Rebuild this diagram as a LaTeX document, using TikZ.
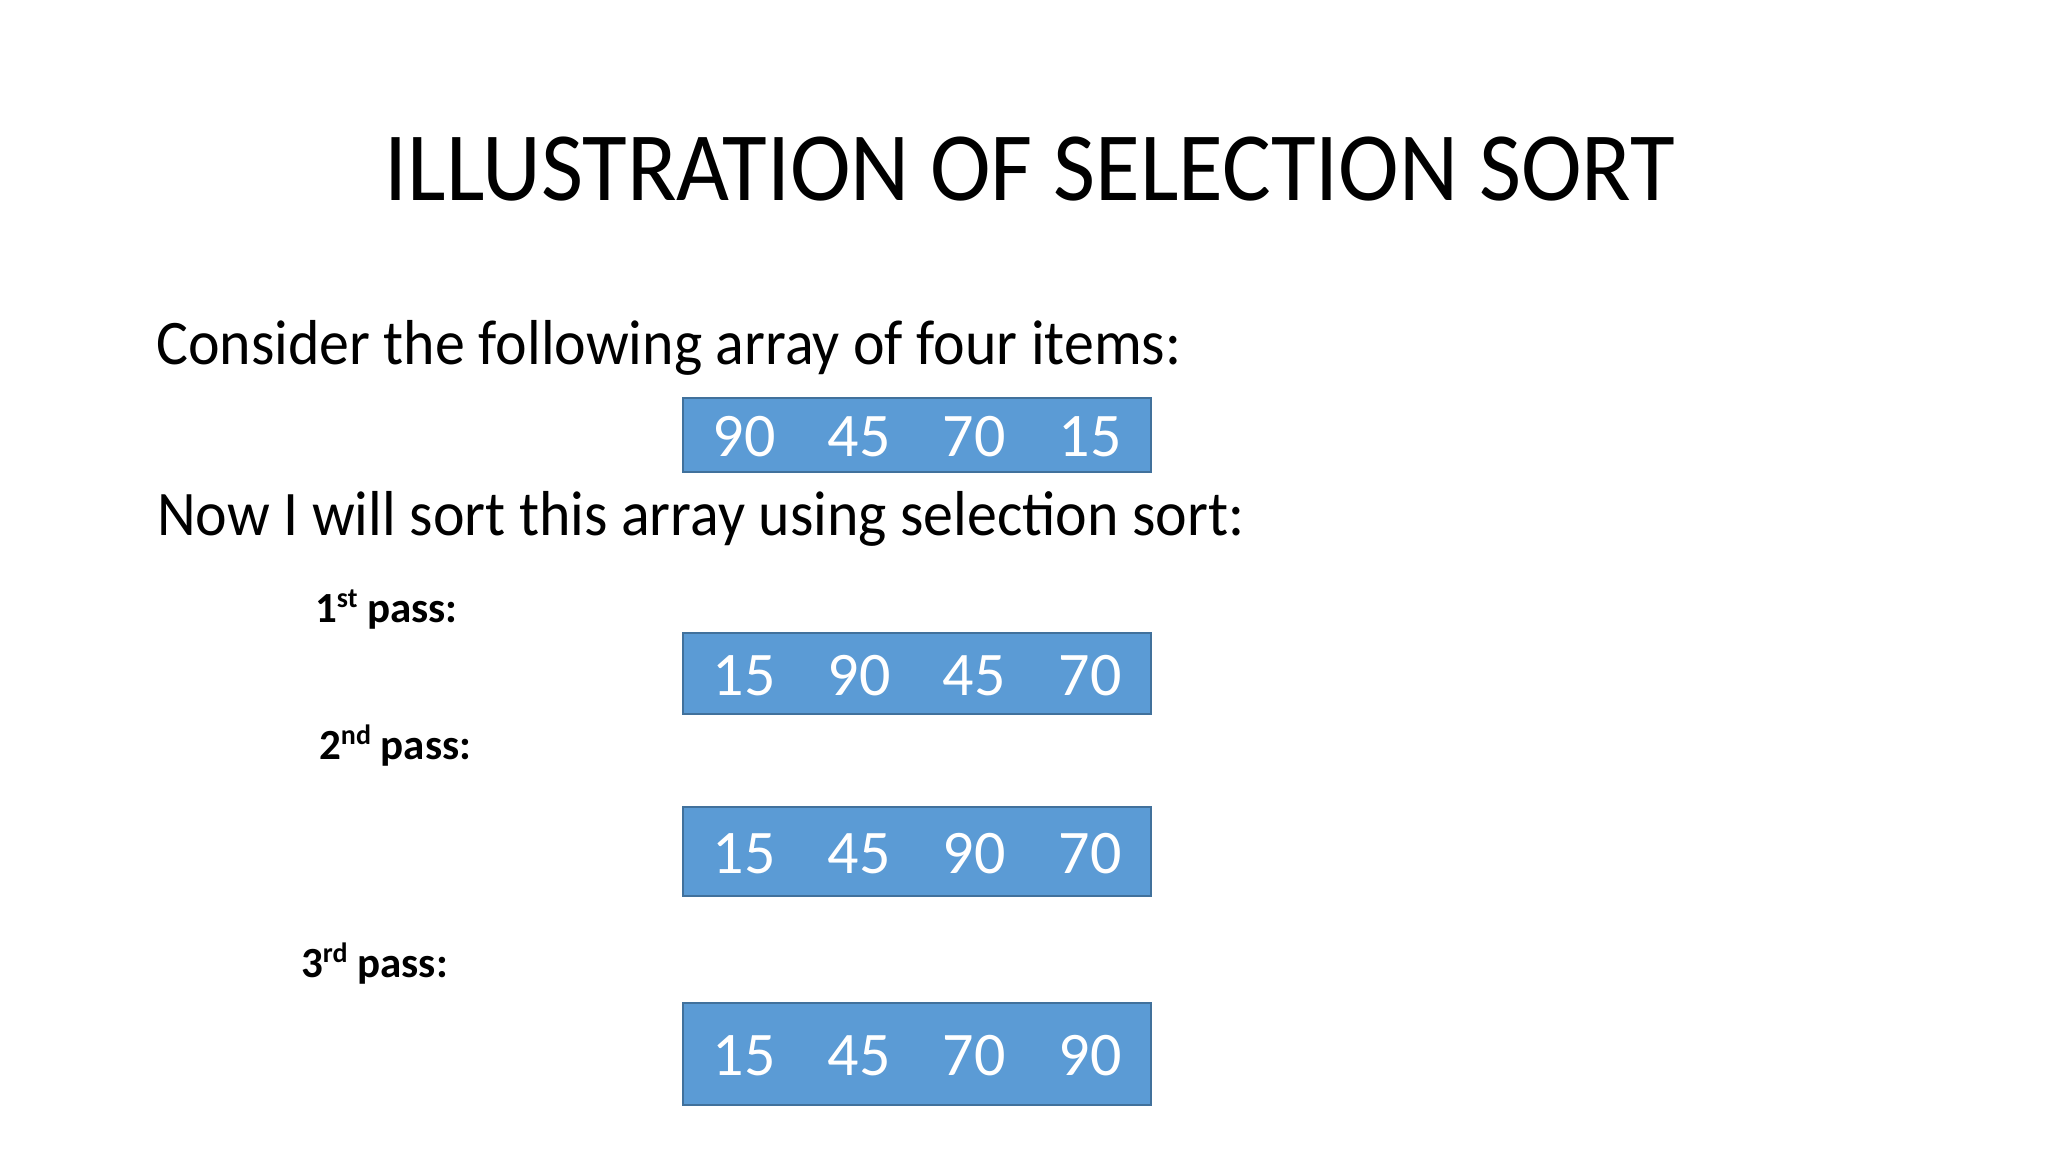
\documentclass[tikz,border=0pt]{standalone}
\usepackage{fontspec}
\setmainfont{Carlito}
\newfontfamily\narrowfont[FakeStretch=0.933]{Carlito}
\newfontfamily\bodyfont[FakeStretch=0.943]{Carlito}
\definecolor{boxfill}{HTML}{5B9BD5}
\definecolor{boxline}{HTML}{41719C}
\begin{document}
\begin{tikzpicture}[x=1pt,y=-1pt,
  titletxt/.style={inner sep=0, anchor=base, font=\narrowfont\fontsize{98}{110}\selectfont},
  bodytxt/.style={inner sep=0, anchor=base west, font=\bodyfont\fontsize{63.5}{72}\selectfont},
  passtxt/.style={inner sep=0, anchor=base west, font=\fontsize{43}{50}\selectfont\bfseries},
  arraybox/.style={draw=boxline, line width=2pt, fill=boxfill},
  num/.style={inner sep=0, anchor=base, text=white, font=\fontsize{62}{70}\selectfont}]
\useasboundingbox[fill=white] (0,0) rectangle (2048,1152);
\newcommand{\supx}[1]{\raisebox{15pt}{\fontsize{28}{30}\selectfont #1}}
\node[titletxt] (title) at (1030,200) {ILLUSTRATION OF SELECTION SORT};
\node[bodytxt] (consider) at (156,364) {Consider the following array of four items:};
\node[bodytxt] (now) at (157,535) {Now I will sort this array using selection sort:};
\node[passtxt] (p1) at (315,622) {1\supx{st} pass:};
\node[passtxt] (p2) at (319,759) {2\supx{nd} pass:};
\node[passtxt] (p3) at (301,977) {3\supx{rd} pass:};
% boxes
\path[arraybox] (683,398) rectangle (1151,472) coordinate (b0);
\path[arraybox] (683,633) rectangle (1151,714) coordinate (b1);
\path[arraybox] (683,807) rectangle (1151,896) coordinate (b2);
\path[arraybox] (683,1003) rectangle (1151,1105) coordinate (b3);
% numbers
\foreach \row/\base/\a/\b/\c/\d in {0/456/90/45/70/15, 1/695/15/90/45/70, 2/873/15/45/90/70, 3/1075/15/45/70/90}{
  \node[num] (n\row a) at (744,\base) {\a};
  \node[num] (n\row b) at (859,\base) {\b};
  \node[num] (n\row c) at (974,\base) {\c};
  \node[num] (n\row d) at (1090,\base) {\d};
}
\end{tikzpicture}
\end{document}
